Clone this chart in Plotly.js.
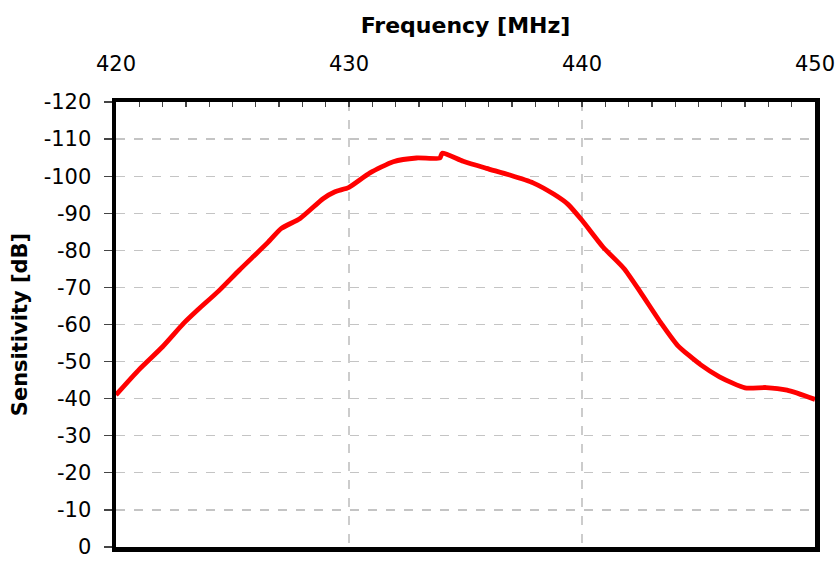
<!DOCTYPE html>
<html>
<head>
<meta charset="utf-8">
<script src="https://cdn.plot.ly/plotly-3.0.1.min.js"></script>
<style>
html,body{margin:0;padding:0;background:#fff;}
#chart{width:836px;height:561px;}
</style>
</head>
<body>
<div id="chart"></div>
<script>
const frequency = [420.0, 421.0, 422.0, 422.9, 423.5, 424.4, 425.3, 426.5, 427.1, 427.9, 428.9, 429.4, 430.0, 430.9, 431.9, 432.9, 433.9, 434.0, 434.9, 435.9, 436.9, 437.9, 438.8, 439.4, 440.0, 440.9, 441.8, 442.5, 443.4, 444.1, 445.1, 445.9, 447.0, 447.9, 448.8, 450.0];
const sensitivity = [-41.0, -47.9, -54.0, -60.3, -63.9, -69.0, -74.7, -82.0, -85.9, -88.6, -94.0, -95.8, -97.0, -100.9, -103.9, -104.9, -104.9, -106.2, -104.0, -102.1, -100.3, -98.2, -95.1, -92.4, -88.1, -80.9, -75.1, -68.8, -60.3, -54.4, -49.1, -45.9, -42.9, -43.0, -42.3, -39.8];
const xTicks = [420, 430, 440, 450];
const yTicks = [0, -10, -20, -30, -40, -50, -60, -70, -80, -90, -100, -110, -120];

const font = "DejaVu Sans, Verdana, sans-serif";

Plotly.newPlot('chart', [{
  x: frequency,
  y: sensitivity,
  type: 'scatter',
  mode: 'lines',
  line: {color: '#ff0000', width: 4.8, shape: 'spline', smoothing: 0.6},
  hoverinfo: 'skip'
}], {
  width: 836,
  height: 561,
  margin: {l: 116, r: 21, t: 102, b: 14, pad: 0},
  paper_bgcolor: '#ffffff',
  plot_bgcolor: '#ffffff',
  showlegend: false,
  xaxis: {
    side: 'top',
    range: [420, 450],
    tickvals: xTicks,
    ticktext: xTicks.map(String),
    ticks: 'inside',
    ticklen: 5,
    tickwidth: 1.3,
    tickcolor: '#444',
    minor: {dtick: 1, tick0: 420, ticks: 'inside', ticklen: 5, tickwidth: 1.3, tickcolor: '#444', showgrid: false},
    showline: true,
    linecolor: '#000',
    linewidth: 4.5,
    mirror: true,
    showgrid: true,
    gridcolor: '#cccccc',
    gridwidth: 1.3,
    griddash: 'dash',
    zeroline: false,
    ticklabelstandoff: 18,
    tickfont: {family: font, size: 21, color: '#000'},
    title: {text: 'Frequency [MHz]', font: {family: font, size: 22, color: '#000', weight: 'bold'}, standoff: 14}
  },
  yaxis: {
    range: [0, -120],
    tickvals: yTicks,
    ticktext: yTicks.map(String),
    ticks: 'outside',
    ticklen: 8,
    tickwidth: 1.3,
    tickcolor: '#444',
    showline: true,
    linecolor: '#000',
    linewidth: 4.5,
    mirror: true,
    showgrid: true,
    gridcolor: '#c4c4c4',
    gridwidth: 1.3,
    griddash: 'dash',
    zeroline: false,
    ticklabelstandoff: 8,
    tickfont: {family: font, size: 21, color: '#000'},
    title: {text: 'Sensitivity [dB]', font: {family: font, size: 21, color: '#000', weight: 'bold'}, standoff: 12}
  }
}, {displayModeBar: false, staticPlot: true});
</script>
</body>
</html>
